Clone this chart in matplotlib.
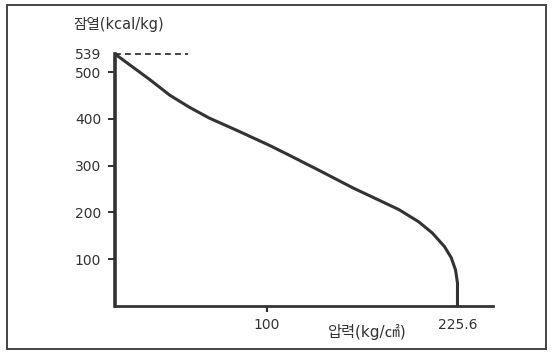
import matplotlib
matplotlib.use("Agg")
import matplotlib.pyplot as plt
from matplotlib.patches import Rectangle

# latent heat of water vs pressure
pressure = [0, 10, 23, 36, 49, 62, 82, 102, 115, 135, 157, 174, 187, 200,
            209, 217, 221.5, 224.3, 225.6, 225.6]
latent_heat = [539, 515, 484, 451, 425, 402, 373, 343, 322, 289, 252, 226, 206, 180,
               156, 127, 103, 77, 49, 0]

y_ticks = [100, 200, 300, 400, 500, 539]
y_tick_labels = ["100", "200", "300", "400", "500", "539"]
x_ticks = [100, 225.6]
x_tick_labels = ["100", "225.6"]

fonts = ["DejaVu Sans", "Noto Sans CJK KR"]
plt.rcParams["font.family"] = fonts
ink = "#333333"

fig = plt.figure(figsize=(5.55, 3.59), dpi=100)
ax = fig.add_axes([115 / 555, 0.148, (493 - 115) / 555, 0.729])

ax.plot(pressure, latent_heat, color=ink, lw=2.2, solid_capstyle="round",
        solid_joinstyle="round")
# dashed guide at the 0-pressure value
ax.plot([0, 48], [539, 539], color="#222222", lw=1.2, dashes=(3.5, 2.5))

ax.set_xlim(0, 249)
ax.set_ylim(0, 560)

for s in ["top", "right"]:
    ax.spines[s].set_visible(False)
ax.spines["left"].set_bounds(0, 539)
ax.spines["left"].set_linewidth(2.6)
ax.spines["left"].set_color(ink)
ax.spines["bottom"].set_linewidth(2.0)
ax.spines["bottom"].set_color(ink)

ax.set_yticks(y_ticks)
ax.set_yticklabels(y_tick_labels)
ax.set_xticks(x_ticks)
ax.set_xticklabels(x_tick_labels)
ax.tick_params(axis="y", length=5, width=1.4, pad=5, labelsize=10, colors=ink)
ax.tick_params(axis="x", length=4, width=1.6, pad=5, labelsize=10, colors=ink)
ax.yaxis.get_major_ticks()[-1].tick1line.set_visible(False)
ax.xaxis.get_major_ticks()[-1].tick1line.set_visible(False)

fig.text(73 / 555, 1 - 25 / 359, "잠열(kcal/kg)", ha="left", va="center",
         fontsize=10.5, color=ink, family=fonts)
fig.text(367 / 555, 1 - 332 / 359, "압력(kg/㎠)", ha="center", va="center",
         fontsize=11, color=ink, family=fonts)

# outer frame of the scanned figure
fig.patches.append(Rectangle((7 / 555, 10 / 359), (546 - 7) / 555, (349 - 5) / 359,
                             transform=fig.transFigure, fill=False,
                             edgecolor="#444444", lw=1.4))

fig.savefig("out.png", dpi=100)
